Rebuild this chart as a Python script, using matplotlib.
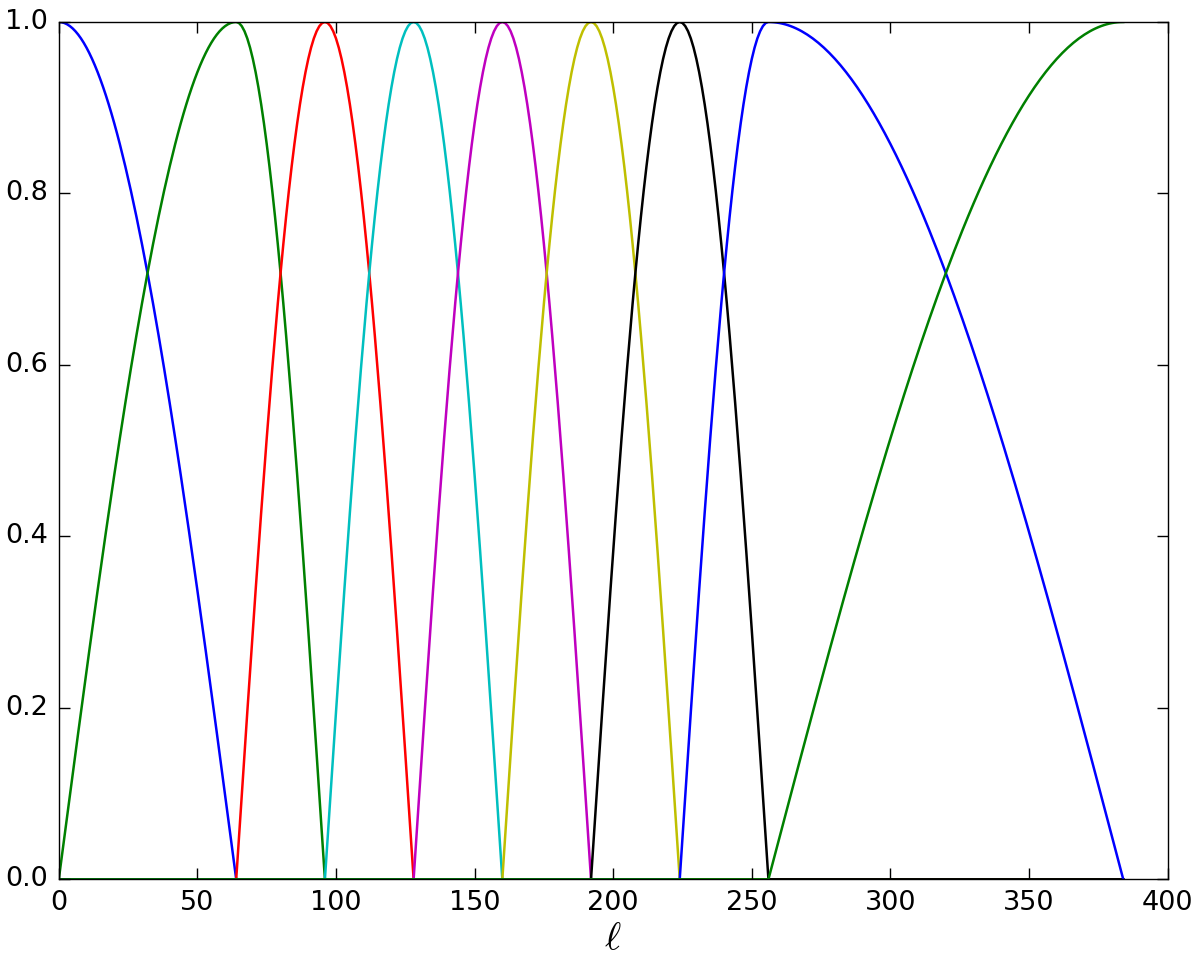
import numpy as np
import matplotlib
matplotlib.use("Agg")
import matplotlib.pyplot as plt

# band peak positions in ell
peaks = [0, 64, 96, 128, 160, 192, 224, 256, 384]
colors = ["b", "g", "r", "c", "m", "y", "k", "b", "g"]
lmax = 384

plt.style.use("classic")
plt.rcParams["font.size"] = 19.5

ell = np.arange(0, lmax + 1)


def window(j):
    w = np.zeros_like(ell, dtype=float)
    mid = peaks[j]
    if j > 0:
        lo = peaks[j - 1]
        m = (ell >= lo) & (ell <= mid)
        w[m] = np.sin(np.pi / 2 * (ell[m] - lo) / (mid - lo))
    else:
        w[ell == mid] = 1.0
    if j < len(peaks) - 1:
        hi = peaks[j + 1]
        m = (ell >= mid) & (ell <= hi)
        w[m] = np.cos(np.pi / 2 * (ell[m] - mid) / (hi - mid))
    else:
        w[ell >= mid] = 1.0
    return w


fig = plt.figure(figsize=(12, 9.77), dpi=100, facecolor="white")
ax = fig.add_axes([0.049, 0.100, 0.924, 0.8775])
for j in range(len(peaks)):
    ax.plot(ell, window(j), color=colors[j], lw=1.8)

ax.set_xlim(0, 400)
ax.set_ylim(0, 1.0)
ax.set_xticks(np.arange(0, 401, 50))
ax.set_yticks(np.arange(0, 1.01, 0.2))
ax.tick_params(which="major", length=8, width=1, direction="in", pad=8)
ax.set_xlabel(r"$\ell$", fontsize=28, labelpad=2)

fig.savefig("out.png", dpi=100, facecolor="white")
